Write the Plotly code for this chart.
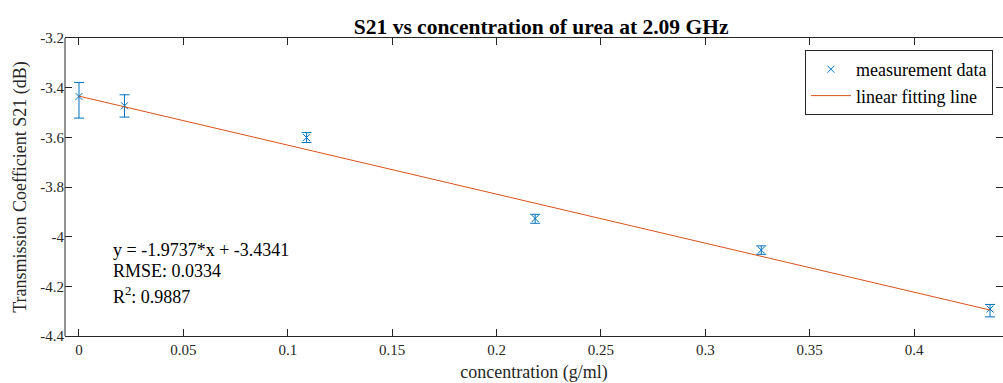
import plotly.graph_objects as go

# ---- data ----
concentration = [0.0, 0.0218, 0.109, 0.2185, 0.3268, 0.4364]
s21_mean = [-3.4355, -3.473, -3.601, -3.927, -4.054, -4.2915]
err_upper = [0.0565, 0.0444, 0.020, 0.017, 0.017, 0.0185]
err_lower = [0.0871, 0.0455, 0.020, 0.019, 0.017, 0.0315]

fit_x = [0.0, 0.4364]
fit_y = [-3.4341, -4.2954]

x_tickvals = [0, 0.05, 0.1, 0.15, 0.2, 0.25, 0.3, 0.35, 0.4]
x_ticktext = ["0", "0.05", "0.1", "0.15", "0.2", "0.25", "0.3", "0.35", "0.4"]
y_tickvals = [-4.4, -4.2, -4.0, -3.8, -3.6, -3.4, -3.2]
y_ticktext = ["-4.4", "-4.2", "-4", "-3.8", "-3.6", "-3.4", "-3.2"]

fit_text = ["y = -1.9737*x + -3.4341", "RMSE: 0.0334", "R<sup>2</sup>: 0.9887"]

BLUE = "#0072BD"
ORANGE = "#D95319"
AX = "#262626"
FONT = "Liberation Serif"

fig = go.Figure()
fig.add_trace(go.Scatter(
    x=concentration, y=s21_mean, mode="markers", name="measurement data",
    marker=dict(symbol="x-thin", size=7, color=BLUE, line=dict(width=1, color=BLUE)),
    error_y=dict(type="data", symmetric=False, array=err_upper, arrayminus=err_lower,
                 color=BLUE, thickness=1, width=5),
))
fig.add_trace(go.Scatter(
    x=fit_x, y=fit_y, mode="lines", name="linear fitting line",
    line=dict(color=ORANGE, width=1),
))

ann_y = [-4.054, -4.1365, -4.236]
for t, yy in zip(fit_text, ann_y):
    fig.add_annotation(x=0.0153, y=yy, xref="x", yref="y", text=t, showarrow=False,
                       xanchor="left", yanchor="middle", align="left",
                       font=dict(family=FONT, size=18, color="#000000"))

# left frame line (right frame lies just outside the picture in the reference)
fig.add_shape(type="line", xref="paper", yref="paper", x0=0, x1=0, y0=0, y1=1,
              line=dict(color=AX, width=1))

fig.update_layout(
    width=1003, height=383,
    margin=dict(l=65, r=0, t=38, b=47),
    paper_bgcolor="white", plot_bgcolor="white",
    font=dict(family=FONT, color=AX),
    title=dict(text="<b>S21 vs concentration of urea at 2.09 GHz</b>",
               x=0.5395, xanchor="center", y=0.932, yanchor="middle",
               font=dict(family=FONT, size=21.5, color="#000000")),
    showlegend=True,
    legend=dict(x=0.9893, xanchor="right", y=0.9597, yanchor="top",
                bgcolor="white", bordercolor=AX, borderwidth=1,
                font=dict(family=FONT, size=18, color="#000000"),
                itemwidth=40, tracegroupgap=0),
    xaxis=dict(range=[-0.0067, 0.4426], tickvals=x_tickvals, ticktext=x_ticktext,
               ticks="inside", ticklen=7, tickcolor=AX, tickwidth=1,
               showline=True, linecolor=AX, linewidth=1, mirror="ticks",
               showgrid=False, zeroline=False,
               tickfont=dict(family=FONT, size=15, color=AX),
               title=dict(text="concentration (g/ml)", standoff=8,
                          font=dict(family=FONT, size=18, color=AX))),
    yaxis=dict(range=[-4.4, -3.2], tickvals=y_tickvals, ticktext=y_ticktext,
               ticks="inside", ticklen=7, tickcolor=AX, tickwidth=1,
               showline=False, mirror="ticks",
               showgrid=False, zeroline=False,
               tickfont=dict(family=FONT, size=15, color=AX),
               title=dict(text="Transmission Coefficient S21 (dB)", standoff=8,
                          font=dict(family=FONT, size=18, color=AX))),
)

fig.write_html("out.html")
